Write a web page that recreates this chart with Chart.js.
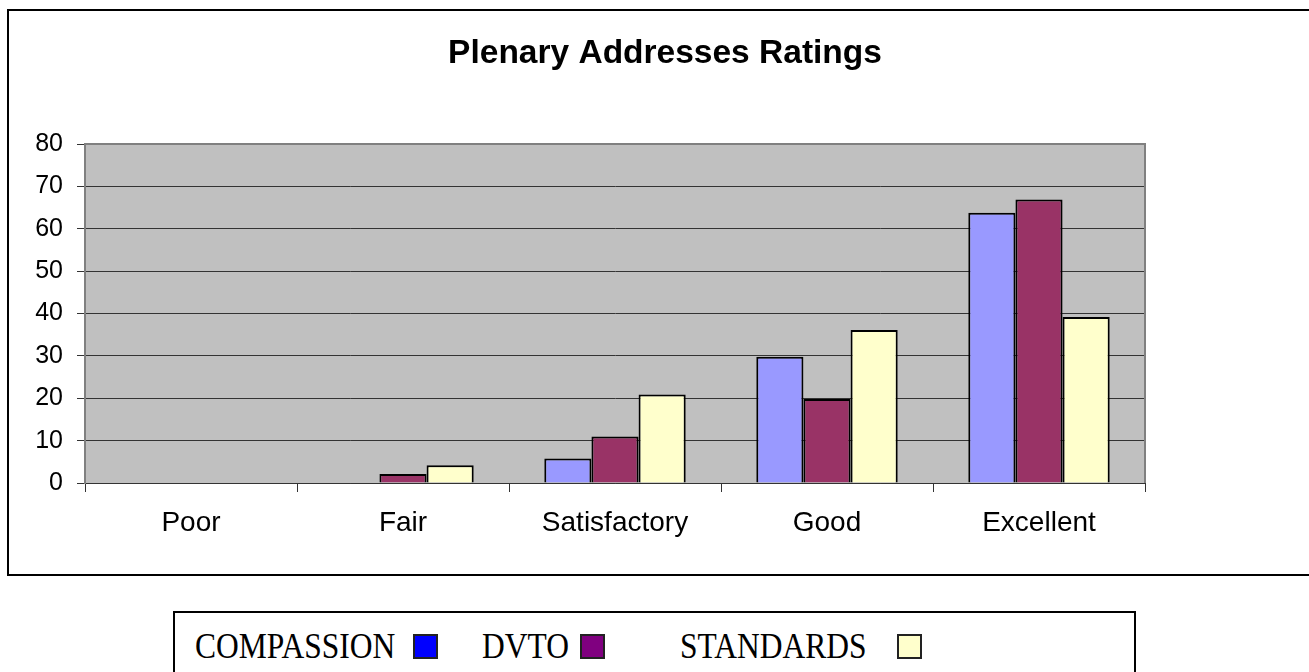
<!DOCTYPE html>
<html>
<head>
<meta charset="utf-8">
<script src="https://cdn.jsdelivr.net/npm/chart.js@4/dist/chart.umd.min.js"></script>
<style>
  html, body { margin: 0; padding: 0; background: #ffffff; width: 1309px; height: 672px; overflow: hidden; }
  #frame { position: absolute; left: 7px; top: 9px; width: 1330px; height: 563px; border: 2px solid #000; }
  #chart { position: absolute; left: 0; top: 0; }
  #legend { position: absolute; left: 173px; top: 611px; width: 959px; height: 100px; border: 2px solid #000; background: #fff; }
  .lt { position: absolute; font-family: "Liberation Serif", "Times New Roman", serif; font-size: 35px; line-height: 35px; color: #000; transform: scaleX(0.9); transform-origin: left top; white-space: nowrap; }
  .ls { position: absolute; width: 21px; height: 21px; border: 2px solid #222; }
</style>
</head>
<body>
<div id="frame"></div>
<canvas id="chart" width="1309" height="672"></canvas>
<div id="legendHost"></div>
<script>
const titleText = "Plenary Addresses Ratings";
const categories = ["Poor", "Fair", "Satisfactory", "Good", "Excellent"];
const seriesNames = ["COMPASSION", "DVTO", "STANDARDS"];
const compassion = [0, 0, 5.8, 29.8, 63.8];
const dvto = [0, 2.1, 11, 19.8, 66.9];
const standards = [0, 4.2, 20.9, 36.1, 39.2];
const yTicks = [0, 10, 20, 30, 40, 50, 60, 70, 80];

const barColors = ["#9999ff", "#993366", "#ffffcc"];
const legendColors = ["#0000ff", "#800080", "#ffffcc"];
const legendTextX = [195, 482, 680];
const legendBoxX = [413, 580, 897];

const plotBg = {
  id: "plotBg",
  beforeDraw(chart) {
    const a = chart.chartArea, c = chart.ctx;
    c.save();
    c.fillStyle = "#c0c0c0";
    c.fillRect(a.left, a.top, a.right - a.left, a.bottom - a.top);
    c.restore();
  },
  beforeDatasetsDraw(chart) {
    const a = chart.chartArea, c = chart.ctx;
    c.save();
    c.strokeStyle = "#808080";
    c.lineWidth = 2;
    c.beginPath();
    c.moveTo(a.left, a.top); c.lineTo(a.right, a.top); c.lineTo(a.right, a.bottom);
    c.stroke();
    c.restore();
  }
};

const seriesData = [compassion, dvto, standards];
new Chart(document.getElementById("chart"), {
  type: "bar",
  data: {
    labels: categories,
    datasets: seriesNames.map((n, i) => ({
      label: n,
      data: seriesData[i],
      backgroundColor: barColors[i],
      borderColor: "#000000",
      borderWidth: 2,
      categoryPercentage: 0.667,
      barPercentage: 1.0
    }))
  },
  options: {
    responsive: false,
    animation: false,
    devicePixelRatio: 1,
    layout: { padding: { left: 21, right: 0, top: 0, bottom: 0 } },
    plugins: {
      legend: { display: false },
      tooltip: { enabled: false },
      title: {
        display: true,
        text: titleText,
        color: "#000",
        font: { family: "'Liberation Sans', Arial, sans-serif", size: 33.5, weight: "bold", lineHeight: 1.2 },
        padding: { top: 34, bottom: 69.8 }
      }
    },
    scales: {
      x: {
        offset: true,
        grid: { display: true, drawOnChartArea: false, drawTicks: true, tickLength: 9, offset: true, color: "#333", lineWidth: 1 },
        border: { display: true, color: "#333", width: 1 },
        ticks: { color: "#000", font: { family: "'Liberation Sans', Arial, sans-serif", size: 28 }, padding: 14, maxRotation: 0, autoSkip: false },
        afterFit(s) { s.height = 189; }
      },
      y: {
        min: 0, max: 80,
        afterBuildTicks(s) { s.ticks = yTicks.map(v => ({ value: v })); },
        grid: { color: "#333", lineWidth: 1, drawTicks: true, tickLength: 8 },
        border: { display: true, color: "#808080", width: 2 },
        ticks: { color: "#000", font: { family: "'Liberation Sans', Arial, sans-serif", size: 25 }, padding: 14 },
        afterFit(s) { s.width = 64; }
      },
      y2: {
        position: "right",
        display: true,
        grid: { display: false, drawTicks: false },
        border: { display: false },
        ticks: { display: false },
        afterFit(s) { s.width = 164; }
      }
    }
  },
  plugins: [plotBg]
});

const host = document.getElementById("legendHost");
let html = '<div id="legend"></div>';
seriesNames.forEach((n, i) => {
  html += '<div class="lt" style="left:' + legendTextX[i] + 'px; top:629px;">' + n + '</div>';
  html += '<div class="ls" style="left:' + legendBoxX[i] + 'px; top:634px; background:' + legendColors[i] + ';"></div>';
});
host.innerHTML = html;
</script>
</body>
</html>
